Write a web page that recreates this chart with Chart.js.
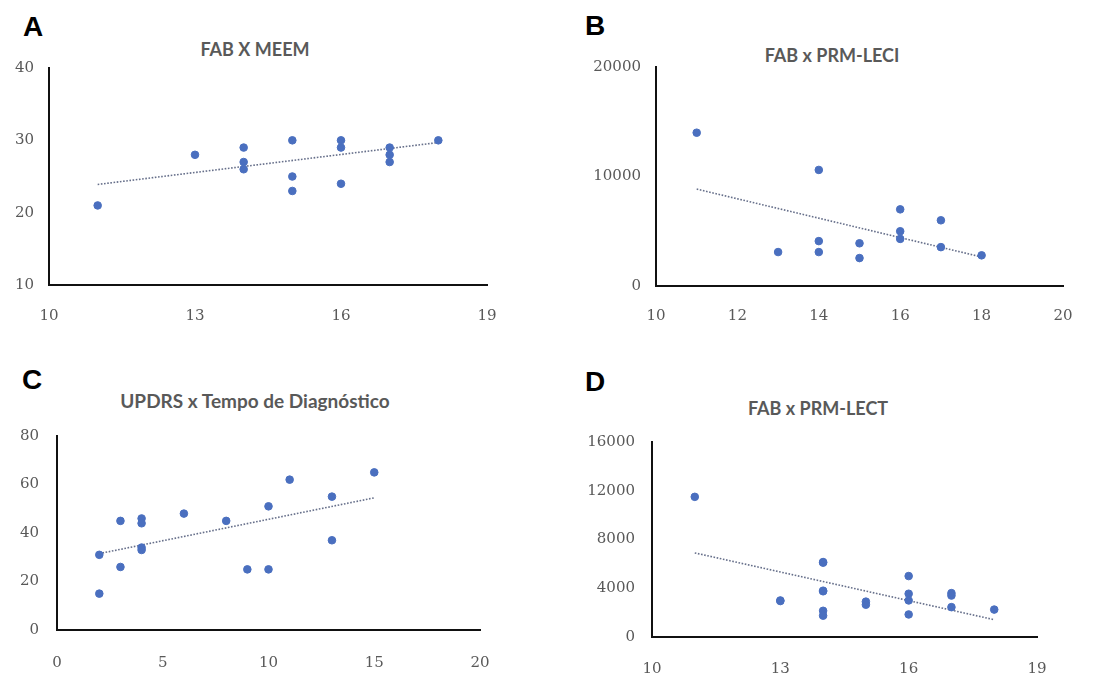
<!DOCTYPE html>
<html>
<head>
<meta charset="utf-8">
<script src="https://cdn.jsdelivr.net/npm/chart.js@4/dist/chart.umd.min.js"></script>
<style>
  body { margin: 0; background: #fff; }
  .wrap { position: relative; width: 1095px; height: 679px; overflow: hidden; }
  canvas { position: absolute; }
  .letter { position: absolute; font: bold 28px "Liberation Sans", Arial, sans-serif; line-height: 28px; color: #000; }
  .title { position: absolute; font: bold 18px Lato, "Open Sans", sans-serif; line-height: 18px; color: #595959; white-space: nowrap; transform: translateX(-50%); }
</style>
</head>
<body>
<div class="wrap">
  <div class="letter" style="left:23px;top:13px">A</div>
  <div class="letter" style="left:585px;top:12px">B</div>
  <div class="letter" style="left:22px;top:366px">C</div>
  <div class="letter" style="left:585px;top:368px">D</div>
  <div class="title" style="left:255px;top:40px">FAB X MEEM</div>
  <div class="title" style="left:832px;top:46px">FAB x PRM-LECI</div>
  <div class="title" style="left:255px;top:392px;font-size:19px">UPDRS x Tempo de Diagnóstico</div>
  <div class="title" style="left:818px;top:399px">FAB x PRM-LECT</div>
  <canvas id="chartA" width="540" height="335" style="left:0;top:0"></canvas>
  <canvas id="chartB" width="550" height="335" style="left:545px;top:0"></canvas>
  <canvas id="chartC" width="540" height="339" style="left:0;top:340px"></canvas>
  <canvas id="chartD" width="550" height="339" style="left:545px;top:340px"></canvas>
</div>
<script>
// A: FAB x MEEM
const xA = [11, 13, 14, 14, 14, 15, 15, 15, 16, 16, 16, 17, 17, 17, 18];
const yA = [21, 28, 29, 27, 26, 30, 25, 23, 30, 29, 24, 29, 28, 27, 30];
const trendXA = [11, 18];
const trendYA = [23.9, 29.7];

// B: FAB x PRM-LECI
const xB = [11, 13, 14, 14, 14, 15, 15, 16, 16, 16, 17, 17, 18];
const yB = [14000, 3100, 10600, 4100, 3100, 3900, 2550, 7000, 5000, 4300, 6000, 3550, 2800];
const trendXB = [11, 18];
const trendYB = [8850, 2650];

// C: UPDRS x Tempo de Diagnostico
const xC = [2, 2, 3, 3, 4, 4, 4, 4, 6, 8, 9, 10, 10, 11, 13, 13, 15];
const yC = [31, 15, 45, 26, 46, 44, 34, 33, 48, 45, 25, 51, 25, 62, 55, 37, 65];
const trendXC = [2, 15];
const trendYC = [31.5, 54.5];

// D: FAB x PRM-LECT
const xD = [11, 13, 13, 14, 14, 14, 14, 14, 14, 15, 15, 16, 16, 16, 16, 17, 17, 17, 18];
const yD = [11500, 3000, 2950, 6150, 6100, 3800, 3750, 2150, 1750, 2900, 2650, 5000, 3550, 3000, 1850, 3600, 3400, 2450, 2250];
const trendXD = [11, 18];
const trendYD = [6900, 1420];

const dotColor = '#4a6fbf';
const tickFont = { family: '"DejaVu Serif", serif', size: 15 };

function pairs(xs, ys) {
    return xs.map((x, i) => ({ x: x, y: ys[i] }));
}

function makeChart(id, xs, ys, tx, ty, cfg) {
    return new Chart(document.getElementById(id), {
        type: 'scatter',
        data: {
            datasets: [{
                data: pairs(xs, ys),
                backgroundColor: dotColor,
                borderColor: dotColor,
                pointRadius: 3.8,
                pointHoverRadius: 3.8
            },
            {
                type: 'line',
                data: pairs(tx, ty),
                borderColor: 'rgba(85,95,125,0.9)',
                borderWidth: 1.6,
                borderDash: [1.6, 1.6],
                pointRadius: 0,
                fill: false
            }]
        },
        options: {
            responsive: false,
            animation: false,
            layout: { padding: { left: 0, top: cfg.top, right: cfg.right, bottom: 0 } },
            plugins: { legend: { display: false }, tooltip: { enabled: false } },
            scales: {
                x: {
                    type: 'linear',
                    min: cfg.xMin, max: cfg.xMax,
                    afterFit: s => { s.height = cfg.xH; },
                    afterBuildTicks: s => { s.ticks = cfg.xTicks.map(v => ({ value: v })); },
                    grid: { display: false, drawTicks: false },
                    border: { display: true, color: '#111', width: 2 },
                    ticks: { color: '#595959', font: tickFont, padding: cfg.xPad, maxRotation: 0, callback: v => String(v) }
                },
                y: {
                    min: cfg.yMin, max: cfg.yMax,
                    afterFit: s => { s.width = cfg.yW; },
                    afterBuildTicks: s => { s.ticks = cfg.yTicks.map(v => ({ value: v })); },
                    grid: { display: false, drawTicks: false },
                    border: { display: true, color: '#111', width: 2 },
                    ticks: { color: '#595959', font: tickFont, padding: cfg.yPad, callback: v => String(v) }
                }
            }
        }
    });
}

makeChart('chartA', xA, yA, trendXA, trendYA, {
    top: 68, right: 53, xH: 50, yW: 49, xPad: 22, yPad: 15,
    xMin: 10, xMax: 19, xTicks: [10, 13, 16, 19],
    yMin: 10, yMax: 40, yTicks: [10, 20, 30, 40]
});
makeChart('chartB', xB, yB, trendXB, trendYB, {
    top: 67, right: 32, xH: 49, yW: 111, xPad: 21, yPad: 15,
    xMin: 10, xMax: 20, xTicks: [10, 12, 14, 16, 18, 20],
    yMin: 0, yMax: 20000, yTicks: [0, 10000, 20000]
});
makeChart('chartC', xC, yC, trendXC, trendYC, {
    top: 96, right: 60, xH: 49, yW: 57, xPad: 24, yPad: 18,
    xMin: 0, xMax: 20, xTicks: [0, 5, 10, 15, 20],
    yMin: 0, yMax: 80, yTicks: [0, 20, 40, 60, 80]
});
makeChart('chartD', xD, yD, trendXD, trendYD, {
    top: 102, right: 58, xH: 42, yW: 107, xPad: 23, yPad: 17,
    xMin: 10, xMax: 19, xTicks: [10, 13, 16, 19],
    yMin: 0, yMax: 16000, yTicks: [0, 4000, 8000, 12000, 16000]
});
</script>
</body>
</html>
